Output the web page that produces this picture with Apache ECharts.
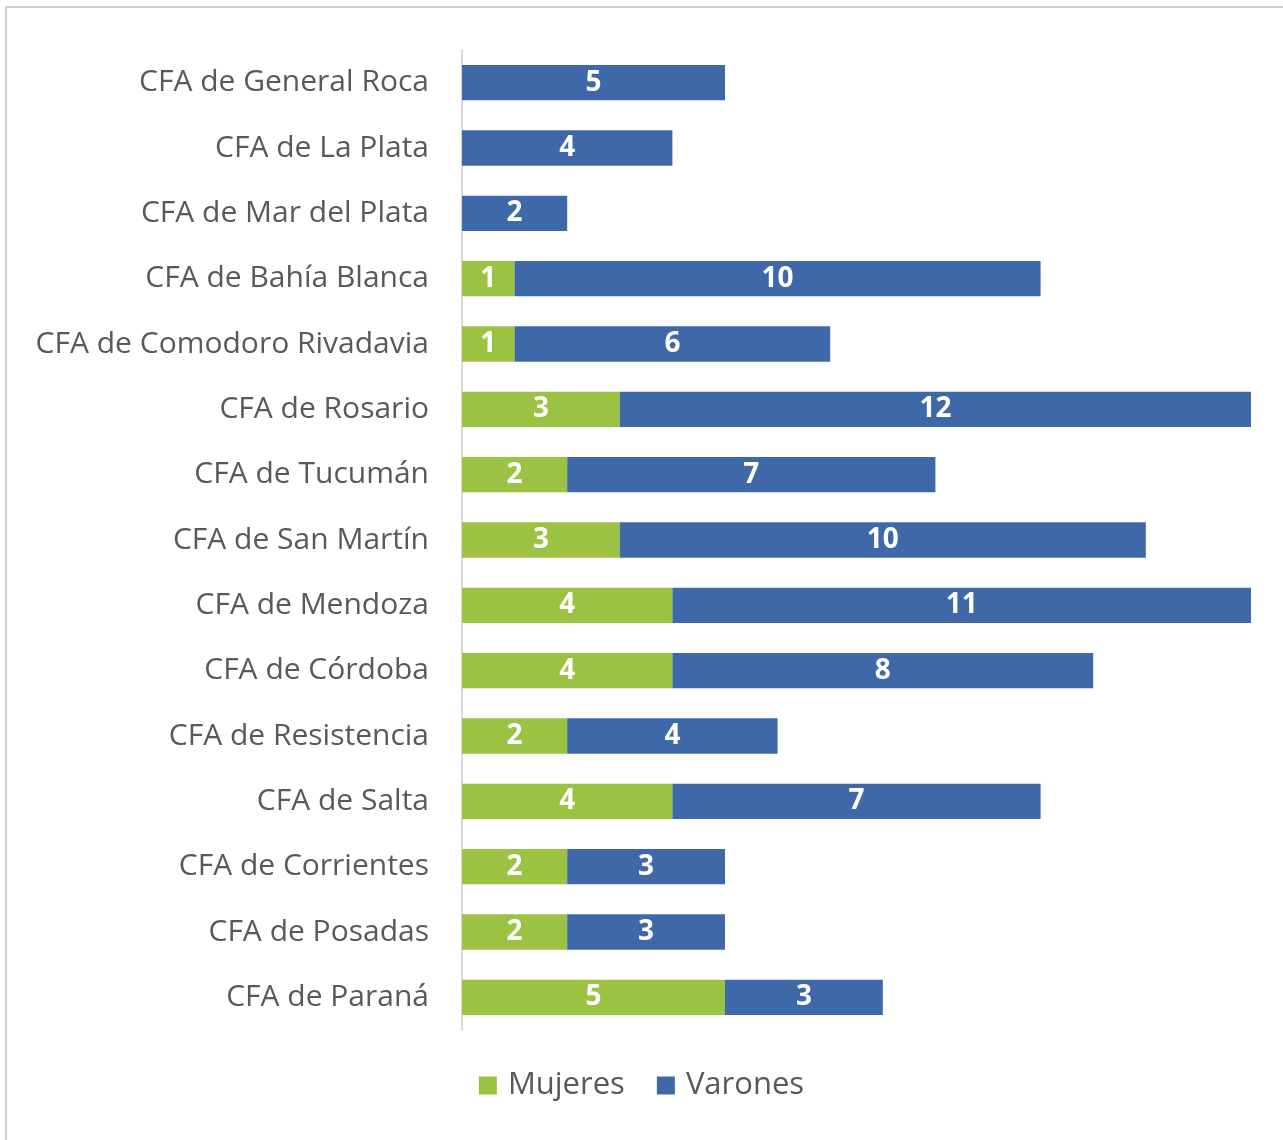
<!DOCTYPE html>
<html><head><meta charset="utf-8">
<script src="https://cdn.jsdelivr.net/npm/echarts@6/dist/echarts.min.js"></script>
<style>html,body{margin:0;padding:0;background:#fff}#c{width:1283px;height:1140px}</style>
</head><body><div id="c"></div>
<script>
const categories = ["CFA de General Roca","CFA de La Plata","CFA de Mar del Plata","CFA de Bahía Blanca","CFA de Comodoro Rivadavia","CFA de Rosario","CFA de Tucumán","CFA de San Martín","CFA de Mendoza","CFA de Córdoba","CFA de Resistencia","CFA de Salta","CFA de Corrientes","CFA de Posadas","CFA de Paraná"];
const mujeres = [0,0,0,1,1,3,2,3,4,4,2,4,2,2,5];
const varones = [5,4,2,10,6,12,7,10,11,8,4,7,3,3,3];
const xMax = 15;

const chart = echarts.init(document.getElementById('c'));
const lbl = {show:true,position:'inside',color:'#fff',fontWeight:'bold',fontSize:28,fontFamily:'Open Sans',
  formatter:p=>p.value===0?'':String(p.value)};
chart.setOption({
  animation:false,
  graphic:[{type:'rect',shape:{x:6,y:7,width:1300,height:1160},style:{fill:'none',stroke:'#d0d0d0',lineWidth:2},silent:true}],
  grid:{left:462,right:32,top:50,height:980,containLabel:false},
  xAxis:{type:'value',min:0,max:xMax,show:false,splitLine:{show:false}},
  yAxis:{type:'category',data:categories,inverse:true,
    axisLine:{show:true,lineStyle:{color:'#d9d9d9',width:2}},
    axisTick:{show:false},
    axisLabel:{color:'#595959',fontSize:30,fontFamily:'Open Sans',margin:33}},
  legend:{bottom:34,left:'center',itemWidth:18,itemHeight:18,itemGap:32,icon:'rect',
    textStyle:{color:'#595959',fontSize:31,fontFamily:'Open Sans',padding:[0,0,0,6]},data:['Mujeres','Varones']},
  series:[
    {name:'Mujeres',type:'bar',stack:'t',data:mujeres,barCategoryGap:'46%',itemStyle:{color:'#9bc242'},label:lbl},
    {name:'Varones',type:'bar',stack:'t',data:varones,barCategoryGap:'46%',itemStyle:{color:'#3e68a8'},label:lbl}
  ]
});
</script></body></html>
